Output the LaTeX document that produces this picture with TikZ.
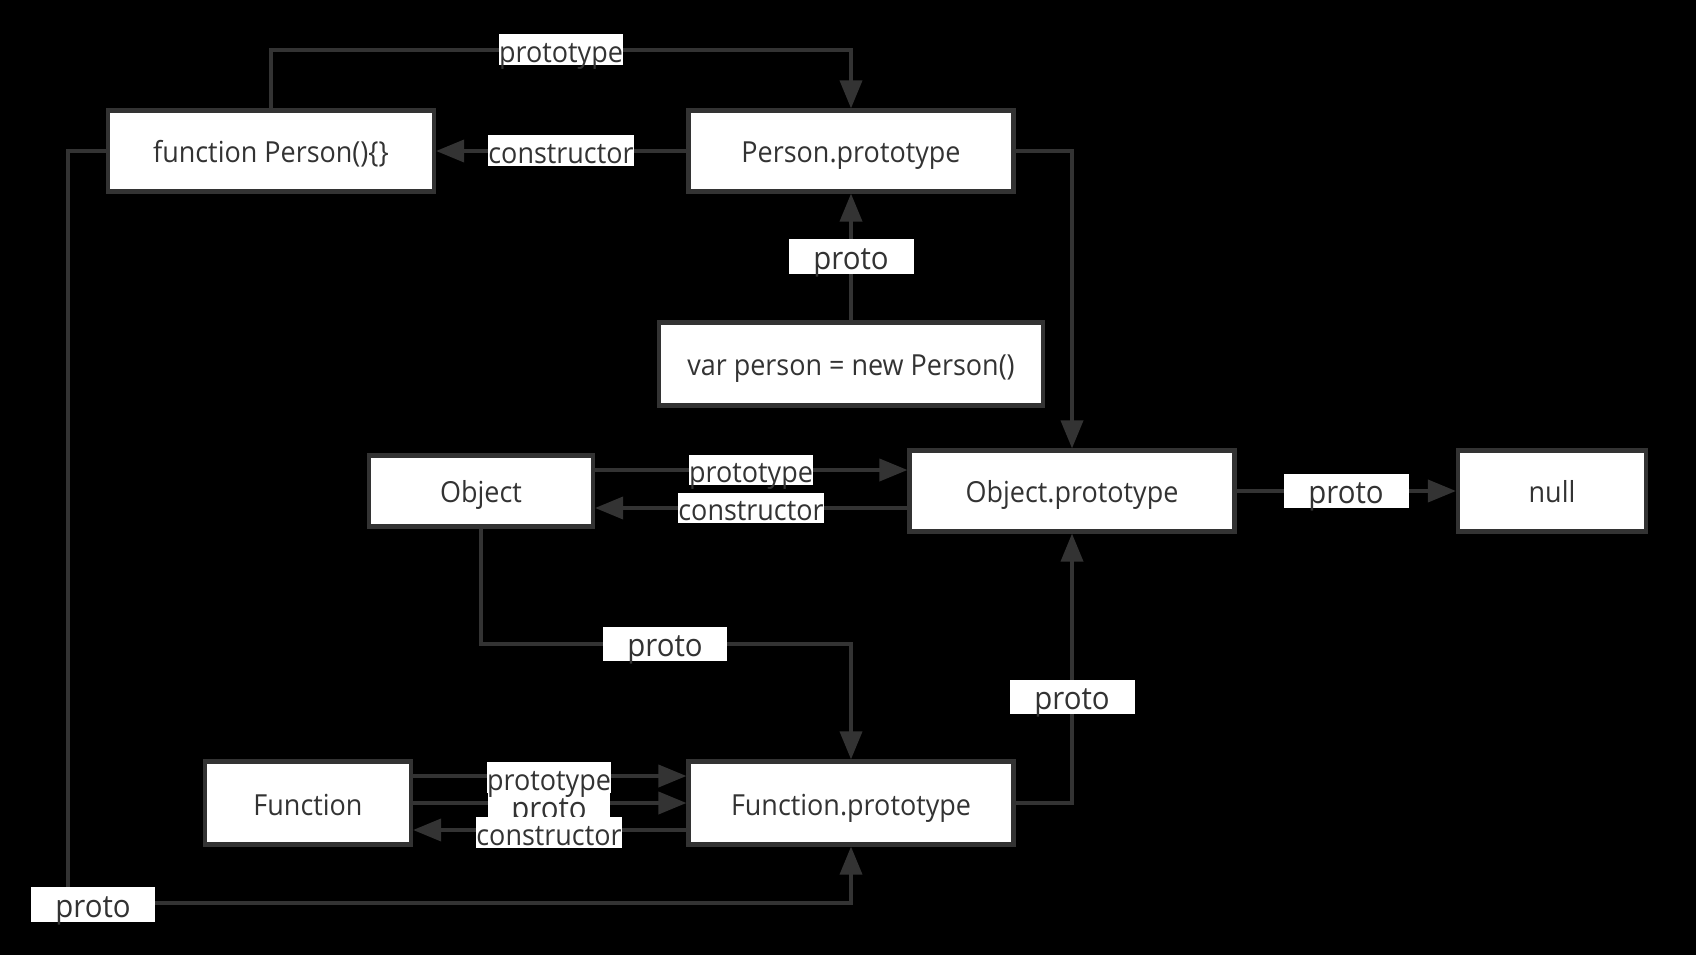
\documentclass[tikz,border=0pt]{standalone}
\usepackage{fontspec}
\setmainfont[FakeStretch=0.93]{Open Sans}
\usetikzlibrary{arrows.meta}
\definecolor{linegray}{HTML}{333333}

\tikzset{
  box/.style={rectangle, draw=linegray, line width=2.4pt, fill=white,
    text=linegray, font=\fontsize{16.5}{19}\selectfont, inner sep=0pt,
    text height=0.48cm, text depth=0pt},
  lbl/.style={rectangle, fill=white, text=linegray,
    font=\fontsize{16.5}{19}\selectfont, inner xsep=0pt, inner ysep=0pt,
    minimum height=0.62cm, text height=0.52cm, text depth=0pt},
  protolbl/.style={lbl, font=\fontsize{18}{21}\selectfont,
    minimum width=2.5cm, minimum height=0.7cm},
  link/.style={draw=linegray, line width=2.1pt,
    -{Triangle[length=0.56cm,width=0.44cm]}},
}

\begin{document}
\begin{tikzpicture}[x=0.02cm,y=-0.02cm]

            \fill[black] (0,0) rectangle (1696,955);

            % boxes
            \node[box, minimum width=6.52cm, minimum height=1.62cm]
            	(fperson) 	at (271,151) {function Person()\{\}};
            \node[box, minimum width=6.5cm, minimum height=1.62cm]
            	(pproto) 	at (851,151) {Person.prototype};
            \node[box, minimum width=7.68cm, minimum height=1.66cm]
            	(person) 	at (851,364) {var person = new Person()};
            \node[box, minimum width=4.48cm, minimum height=1.42cm]
            	(object) 	at (481,491) {Object};
            \node[box, minimum width=6.5cm, minimum height=1.62cm]
            	(oproto) 	at (1072,491) {Object.prototype};
            \node[box, minimum width=3.76cm, minimum height=1.62cm]
            	(null) 		at (1552,491) {null};
            \node[box, minimum width=4.12cm, minimum height=1.66cm]
            	(func) 		at (308,803) {Function};
            \node[box, minimum width=6.5cm, minimum height=1.66cm]
            	(fproto) 	at (851,803) {Function.prototype};

            \coordinate (ptop) at (561,50);
            \coordinate (ocorner) at (665,644);
            \coordinate (pleft) at (68,903);

            % connectors
            \draw[link] (fperson.north) |- (ptop) -| (pproto.north);
            \draw[link] (pproto.west) -- (fperson.east);
            \draw[link] (person.north) -- (pproto.south);
            \draw[link] (pproto.east) -| (oproto.north);
            \draw[link] ([yshift=0.42cm]object.east) -- ([yshift=0.42cm]oproto.west);
            \draw[link] ([yshift=-0.34cm]oproto.west) -- ([yshift=-0.34cm]object.east);
            \draw[link] (oproto.east) -- (null.west);
            \draw[link] (object.south) |- (ocorner) -| (fproto.north);
            \draw[link] ([yshift=0.54cm]func.east) -- ([yshift=0.54cm]fproto.west);
            \draw[link] (func.east) -- (fproto.west);
            \draw[link] ([yshift=-0.54cm]fproto.west) -- ([yshift=-0.54cm]func.east);
            \draw[link] (fproto.east) -| (oproto.south);
            \draw[link] (fperson.west) -| (pleft) -| (fproto.south);

            % labels
            \node[lbl] (lptop) at (561,50) {prototype};
            \node[lbl] (lpcons) at (561,151) {constructor};
            \node[protolbl] (lpers) at (851,257) {proto};
            \node[lbl] (lobjpt) at (751,470) {prototype};
            \node[lbl] (lobjcons) at (751,508) {constructor};
            \node[protolbl] (lnull) at (1346,491) {proto};
            \node[protolbl] (lobjfn) at (665,644) {proto};
            \node[protolbl] (lfnobj) at (1072,697) {proto};
            \node[protolbl, minimum width=2.46cm, minimum height=0.8cm]
            	(lfnproto) at (549,806) {proto};
            \node[lbl] (lfnpt) at (549,777) {prototype};
            \node[lbl] (lfncons) at (549,832) {constructor};
            \node[protolbl] (lleft) at (93,904) {proto};

\end{tikzpicture}
\end{document}
